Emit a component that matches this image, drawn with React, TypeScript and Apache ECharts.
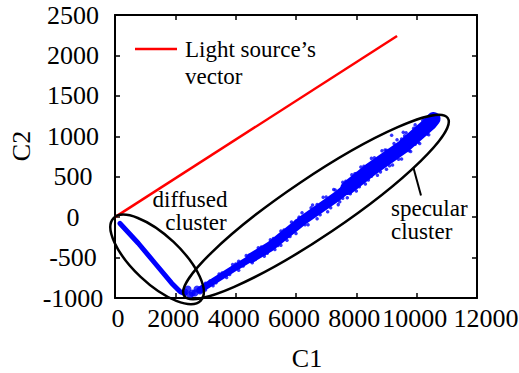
import React, { useEffect, useRef } from "react";
import * as echarts from "echarts";

// ---- axis ranges ----
const X_MIN = 0;
const X_MAX = 12000;
const X_STEP = 2000;
const Y_MIN = -1000;
const Y_MAX = 2500;
const Y_STEP = 500;
const xTickLabels = [0, 2000, 4000, 6000, 8000, 10000, 12000];

// ---- data ----
const lightVector = [
  [0, 0],
  [9350, 2240],
];

const diffusedLine = [
  [166, -78],
  [772, -323],
  [1326, -570],
  [1879, -817],
  [2154, -921],
  [2320, -945],
];

const diffusedClump = [
  [2320, -925],
  [2486, -962],
  [2652, -937],
  [2817, -913],
  [2420, -888],
  [2718, -888],
  [2560, -940],
];

const specularCoreLow = [
  [2817, -900],
  [4034, -612],
  [4700, -463],
];
const specularCoreMid = [
  [4500, -508],
  [5138, -365],
  [6241, -35],
  [7348, 254],
  [7900, 419],
];
const specularCoreHigh = [
  [7700, 359],
  [8452, 584],
  [9556, 872],
  [10441, 1161],
  [10560, 1215],
];

const specularScatter = [
  [3000, -817], [3000, -902], [3250, -848], [3450, -702], [3700, -746],
  [3900, -586], [4100, -657], [4100, -547], [4350, -476], [4550, -564],
  [4750, -380], [4950, -482], [5150, -281], [5300, -399], [5500, -172],
  [5500, -347], [5700, -285], [5850, -60], [6000, -202], [6000, -47],
  [6200, 53], [6400, -93], [6550, 151], [6700, -20], [6700, 155],
  [6900, 247], [7050, 66], [7250, 343], [7400, 155], [7550, 432],
  [7550, 234], [7700, 239], [7850, 524], [8000, 324], [8000, 539],
  [8150, 619], [8300, 411], [8343, 625], [8500, 727], [8500, 507],
  [8700, 519], [8850, 820], [9000, 592], [9000, 827], [9170, 1012],
  [9200, 645], [9350, 957], [9500, 719], [9500, 967], [9556, 1050],
  [9650, 1043], [9800, 812], [9950, 1141], [9950, 901], [10100, 910],
  [10250, 1219], [10400, 1018], [10550, 1257], [10550, 1117], [10650, 1210],
  [3150, -790], [3350, -810], [3550, -690], [3800, -710], [4000, -580],
  [4250, -605], [4450, -470], [4650, -525], [4850, -370], [5050, -445],
  [5250, -265], [5400, -350], [5600, -160], [5800, -240], [6100, 0],
  [6300, -95], [6500, 115], [6800, 30], [7000, 250], [7150, 115],
  [7300, 335], [7450, 190], [7650, 445], [7800, 290], [7950, 535],
  [8100, 375], [8250, 630], [8400, 460], [8600, 735], [8800, 560],
  [8950, 830], [9100, 635], [9250, 910], [9400, 715], [9600, 1005],
  [9750, 820], [9900, 1100], [10050, 925], [10200, 1195], [10350, 1030],
  [10500, 1270], [10600, 1150],
];

// ---- annotation anchors (data space) ----
const diffusedCenter = [1395, -523];
const specularCenter = [6662, 126];

const FONT = "Liberation Serif";
const BLUE = "#0000ff";
const RED = "#ff0000";

export default function App() {
  const ref = useRef<HTMLDivElement | null>(null);

  useEffect(() => {
    if (!ref.current) return;
    const chart = echarts.init(ref.current, undefined, { renderer: "svg" });

    const axisLine = { show: true, onZero: false, lineStyle: { color: "#000", width: 2 } };
    const axisTick = { show: true, inside: true, length: 5, lineStyle: { color: "#000", width: 1.5 } };
    const labelStyle = {
      color: "#000", fontSize: 26, fontFamily: FONT,
      formatter: (v: number) => String(v),
    };

    chart.setOption({
      animation: false,
      backgroundColor: "#fff",
      grid: { left: 115, top: 15, right: 42, bottom: 75, containLabel: false, outerBoundsMode: "none" },
      xAxis: [
        {
          type: "value", min: X_MIN, max: X_MAX, interval: X_STEP, position: "bottom",
          axisLine, axisTick, splitLine: { show: false }, axisLabel: { show: false },
        },
        {
          type: "value", min: X_MIN, max: X_MAX, interval: X_STEP, position: "top",
          axisLine, axisTick, splitLine: { show: false }, axisLabel: { show: false },
        },
      ],
      yAxis: [
        {
          type: "value", min: Y_MIN, max: Y_MAX, interval: Y_STEP, position: "left",
          axisLine, axisTick, splitLine: { show: false },
          axisLabel: { ...labelStyle, margin: 42, align: "center" },
        },
        {
          type: "value", min: Y_MIN, max: Y_MAX, interval: Y_STEP, position: "right",
          axisLine, axisTick, splitLine: { show: false }, axisLabel: { show: false },
        },
      ],
      series: [
        {
          name: "Light source’s vector", type: "line", data: lightVector, symbol: "none",
          lineStyle: { color: RED, width: 2.5 },
        },
        {
          name: "diffused", type: "line", data: diffusedLine, symbol: "none",
          lineStyle: { color: BLUE, width: 5, cap: "round", join: "round" },
        },
        {
          name: "diffused clump", type: "scatter", data: diffusedClump, symbolSize: 7,
          itemStyle: { color: BLUE },
        },
        {
          name: "specular low", type: "line", data: specularCoreLow, symbol: "none",
          lineStyle: { color: BLUE, width: 7, cap: "round", join: "round" },
        },
        {
          name: "specular mid", type: "line", data: specularCoreMid, symbol: "none",
          lineStyle: { color: BLUE, width: 10, cap: "round", join: "round" },
        },
        {
          name: "specular high", type: "line", data: specularCoreHigh, symbol: "none",
          lineStyle: { color: BLUE, width: 14, cap: "round", join: "round" },
        },
        {
          name: "specular", type: "scatter", data: specularScatter, symbolSize: 3.5,
          itemStyle: { color: BLUE },
        },
      ],
    });

    const dc = chart.convertToPixel({ gridIndex: 0 }, diffusedCenter) as number[];
    const sc = chart.convertToPixel({ gridIndex: 0 }, specularCenter) as number[];
    const axisY = chart.convertToPixel({ yAxisIndex: 0 }, Y_MIN) as number;
    const textStyle = (text: string, align: string) => ({
      text, fontSize: 23, fontFamily: FONT, fill: "#000", align, verticalAlign: "middle",
    });

    const xLabels = xTickLabels.map((v, i) => {
      const px = chart.convertToPixel({ xAxisIndex: 0 }, v) as number;
      const shift = i === xTickLabels.length - 1 ? 9 : i === 0 ? 3 : -2;
      return {
        type: "text", x: px + shift, y: axisY + 7,
        style: { text: String(v), fontSize: 26, fontFamily: FONT, fill: "#000", align: "center", verticalAlign: "top" },
      };
    });

    chart.setOption({
      graphic: [
        ...xLabels,
        { type: "line", shape: { x1: 135, y1: 49, x2: 177, y2: 49 }, style: { stroke: RED, lineWidth: 2.5 } },
        { type: "text", x: 185, y: 49, style: textStyle("Light source’s", "left") },
        { type: "text", x: 185, y: 76, style: textStyle("vector", "left") },
        { type: "text", x: 190, y: 199, style: textStyle("diffused", "center") },
        { type: "text", x: 196, y: 222, style: textStyle("cluster", "center") },
        { type: "text", x: 391, y: 208, style: textStyle("specular", "left") },
        { type: "text", x: 391, y: 231, style: textStyle("cluster", "left") },
        {
          type: "line", shape: { x1: 413.5, y1: 168, x2: 421, y2: 195.5 },
          style: { stroke: "#000", lineWidth: 2 }, z: 100,
        },
        {
          type: "ellipse", x: dc[0], y: dc[1], rotation: (-43.3 * Math.PI) / 180,
          shape: { cx: 0, cy: 0, rx: 60, ry: 24 },
          style: { fill: "none", stroke: "#000", lineWidth: 2.5 }, z: 100,
        },
        {
          type: "ellipse", x: sc[0], y: sc[1], rotation: (34 * Math.PI) / 180,
          shape: { cx: 0, cy: 0, rx: 159, ry: 29 },
          style: { fill: "none", stroke: "#000", lineWidth: 2.5 }, z: 100,
        },
        {
          type: "text", x: 21, y: 146, rotation: Math.PI / 2,
          style: { text: "C2", fontSize: 26, fontFamily: FONT, fill: "#000", align: "center", verticalAlign: "middle" },
        },
        {
          type: "text", x: 307, y: 358,
          style: { text: "C1", fontSize: 26, fontFamily: FONT, fill: "#000", align: "center", verticalAlign: "middle" },
        },
      ],
    });

    return () => chart.dispose();
  }, []);

  return (
    <div
      ref={ref}
      style={{ position: "fixed", left: 0, top: 0, width: 519, height: 373, background: "#fff" }}
    />
  );
}
